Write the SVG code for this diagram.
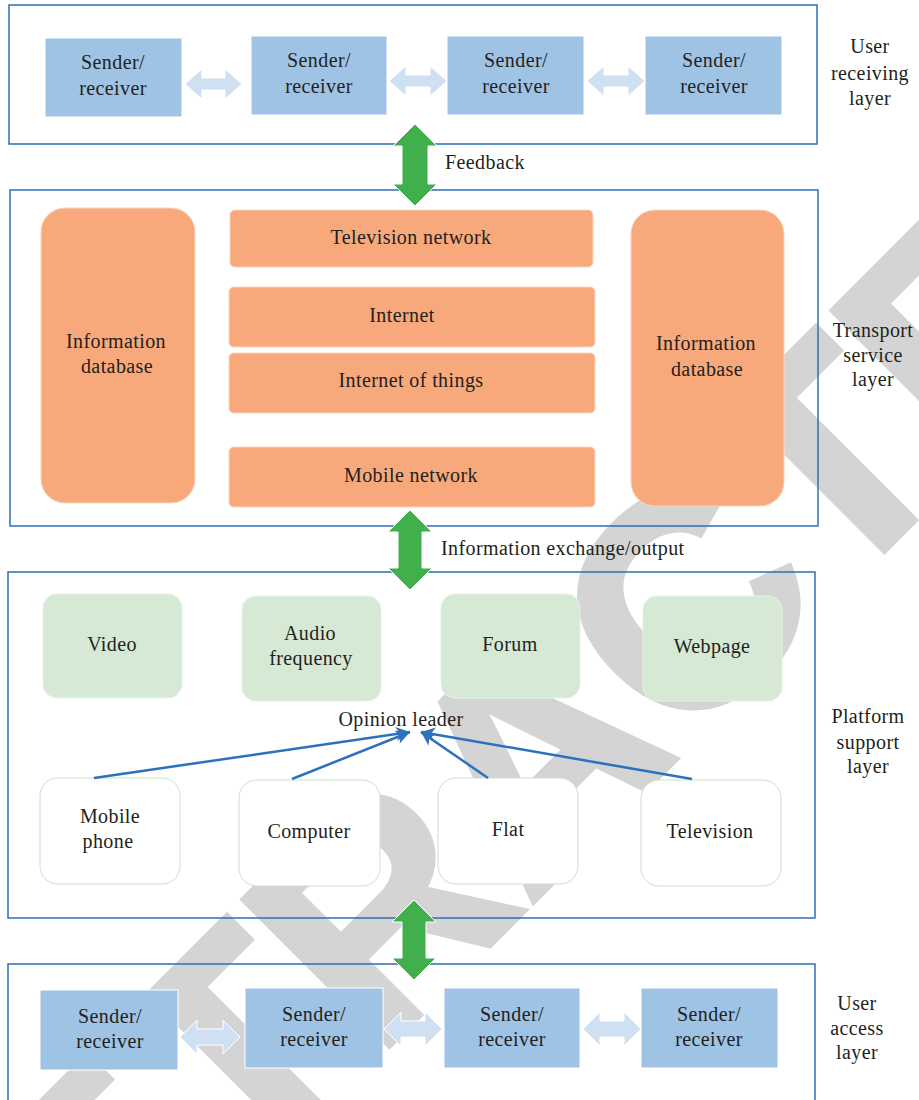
<svg xmlns="http://www.w3.org/2000/svg" width="919" height="1100" viewBox="0 0 919 1100">
<style>
.t{font-family:"Liberation Serif","Times New Roman",serif;font-size:20px;fill:#231f20;text-anchor:middle;letter-spacing:0.4px}
.tl{font-family:"Liberation Serif","Times New Roman",serif;font-size:20px;fill:#231f20;letter-spacing:0.4px}
.frame{fill:none;stroke:#2f6eb5;stroke-width:1.5}
.sr{fill:#9fc3e5;stroke:#ffffff;stroke-width:1}
.or{fill:#f8a97b;stroke:#fbd3bb;stroke-width:1}
.gr{fill:#d6e9d5;stroke:#e6f2e5;stroke-width:1}
.dv{fill:#ffffff;stroke:#c9e3c3;stroke-width:1}
.la{fill:#cfe0f2;stroke:#ffffff;stroke-width:1}
.ga{fill:#41b04c;stroke:#ffffff;stroke-width:1}
.ln{fill:none;stroke:#2a72bd;stroke-width:2.5}
.wm{font-family:"Liberation Sans",Arial,sans-serif;font-weight:bold;font-size:300px;fill:#d4d4d4;stroke:#d4d4d4;stroke-width:6;stroke-linejoin:miter}
</style>
<defs>
<marker id="ah" markerUnits="userSpaceOnUse" markerWidth="16" markerHeight="14" refX="14" refY="7" orient="auto">
<path d="M0,0 L14,7 L0,14 L4,7 Z" fill="#2a72bd"/>
</marker>
</defs>

<g id="watermark">
<text class="wm" transform="translate(-49,1484) rotate(-45)">RETRACTED</text>
</g>

<g id="layer-user-receiving">
<rect class="frame" x="9" y="5" width="808" height="139"/>
<text class="t" x="870" y="53">User</text>
<text class="t" x="870" y="80">receiving</text>
<text class="t" x="870" y="105">layer</text>
</g>
<g id="layer-transport">
<rect class="frame" x="10" y="190" width="808" height="336"/>
<text class="t" x="873" y="337">Transport</text>
<text class="t" x="873" y="362">service</text>
<text class="t" x="873" y="386">layer</text>
</g>
<g id="layer-platform">
<rect class="frame" x="8" y="572" width="807" height="346"/>
<text class="t" x="868" y="723">Platform</text>
<text class="t" x="868" y="749">support</text>
<text class="t" x="868" y="773">layer</text>
</g>
<g id="layer-user-access">
<rect class="frame" x="8" y="964" width="807" height="150"/>
<text class="t" x="857" y="1010">User</text>
<text class="t" x="857" y="1035">access</text>
<text class="t" x="857" y="1059">layer</text>
</g>

<g id="top-sr1"><rect class="sr" x="45" y="38" width="137" height="79"/><text class="t" x="113" y="69">Sender/</text><text class="t" x="113" y="95">receiver</text></g>
<g id="top-sr2"><rect class="sr" x="251" y="36" width="136" height="79"/><text class="t" x="319" y="67">Sender/</text><text class="t" x="319" y="93">receiver</text></g>
<g id="top-sr3"><rect class="sr" x="447" y="36" width="137" height="79"/><text class="t" x="516" y="67">Sender/</text><text class="t" x="516" y="93">receiver</text></g>
<g id="top-sr4"><rect class="sr" x="645" y="36" width="137" height="79"/><text class="t" x="714" y="67">Sender/</text><text class="t" x="714" y="93">receiver</text></g>

<g id="db-left"><rect class="or" x="41" y="208" width="154" height="295" rx="24"/><text class="t" x="116" y="348">Information</text><text class="t" x="117" y="373">database</text></g>
<g id="tv-network"><rect class="or" x="230" y="210" width="363" height="57" rx="5"/><text class="t" x="411" y="244">Television network</text></g>
<g id="internet"><rect class="or" x="229" y="287" width="366" height="60" rx="5"/><text class="t" x="402" y="322">Internet</text></g>
<g id="iot"><rect class="or" x="229" y="353" width="366" height="60" rx="5"/><text class="t" x="411" y="387">Internet of things</text></g>
<g id="mobile-network"><rect class="or" x="229" y="447" width="366" height="60" rx="5"/><text class="t" x="411" y="482">Mobile network</text></g>
<g id="db-right"><rect class="or" x="631" y="210" width="153" height="296" rx="24"/><text class="t" x="706" y="350">Information</text><text class="t" x="707" y="376">database</text></g>

<g id="video"><rect class="gr" x="43" y="594" width="139" height="104" rx="14"/><text class="t" x="112" y="651">Video</text></g>
<g id="audio"><rect class="gr" x="242" y="596" width="139" height="105" rx="14"/><text class="t" x="310" y="640">Audio</text><text class="t" x="311" y="665">frequency</text></g>
<g id="forum"><rect class="gr" x="441" y="594" width="139" height="104" rx="14"/><text class="t" x="510" y="651">Forum</text></g>
<g id="webpage"><rect class="gr" x="643" y="596" width="139" height="105" rx="14"/><text class="t" x="712" y="653">Webpage</text></g>

<g id="opinion-leader"><text class="t" x="401" y="726">Opinion leader</text></g>

<g id="mobile-phone"><rect class="dv" x="40" y="778" width="140" height="106" rx="18"/><text class="t" x="110" y="823">Mobile</text><text class="t" x="108" y="848">phone</text></g>
<g id="computer"><rect class="dv" x="239" y="780" width="141" height="106" rx="18"/><text class="t" x="309" y="838">Computer</text></g>
<g id="flat"><rect class="dv" x="438" y="778" width="140" height="106" rx="18"/><text class="t" x="508" y="836">Flat</text></g>
<g id="television"><rect class="dv" x="641" y="780" width="140" height="106" rx="18"/><text class="t" x="710" y="838">Television</text></g>

<g id="bot-sr1"><rect class="sr" x="40" y="990" width="138" height="80"/><text class="t" x="110" y="1023">Sender/</text><text class="t" x="110" y="1048">receiver</text></g>
<g id="bot-sr2"><rect class="sr" x="245" y="988" width="138" height="80"/><text class="t" x="314" y="1021">Sender/</text><text class="t" x="314" y="1046">receiver</text></g>
<g id="bot-sr3"><rect class="sr" x="444" y="988" width="136" height="80"/><text class="t" x="512" y="1021">Sender/</text><text class="t" x="512" y="1046">receiver</text></g>
<g id="bot-sr4"><rect class="sr" x="641" y="988" width="137" height="80"/><text class="t" x="709" y="1021">Sender/</text><text class="t" x="709" y="1046">receiver</text></g>

<g id="connectors">
<path class="la" d="M185,84 L202,69 L202,78 L225,78 L225,69 L242,84 L225,99 L225,90 L202,90 L202,99 Z"/>
<path class="la" d="M389,81 L406,66 L406,75 L430,75 L430,66 L447,81 L430,96 L430,87 L406,87 L406,96 Z"/>
<path class="la" d="M587,81 L604,66 L604,75 L628,75 L628,66 L645,81 L628,96 L628,87 L604,87 L604,96 Z"/>

<path class="ga" d="M415,124 L437,146 L428,146 L428,184 L437,184 L415,206 L393,184 L402,184 L402,146 L393,146 Z"/>
<text class="tl" x="445" y="169">Feedback</text>
<path class="ga" d="M410,510 L432,532 L422,532 L422,568 L432,568 L410,590 L388,568 L398,568 L398,532 L388,532 Z"/>
<text class="tl" x="441" y="555">Information exchange/output</text>
<path class="ga" d="M414,900 L436,922 L426,922 L426,958 L436,958 L414,980 L392,958 L402,958 L402,922 L392,922 Z"/>

<line class="ln" x1="94" y1="778" x2="410" y2="732" marker-end="url(#ah)"/>
<line class="ln" x1="292" y1="779" x2="410" y2="732" marker-end="url(#ah)"/>
<line class="ln" x1="488" y1="778" x2="421" y2="732" marker-end="url(#ah)"/>
<line class="ln" x1="692" y1="779" x2="421" y2="732" marker-end="url(#ah)"/>

<path class="la" d="M180,1037 L197,1020 L197,1029 L223,1029 L223,1020 L240,1037 L223,1054 L223,1045 L197,1045 L197,1054 Z"/>
<path class="la" d="M384,1029 L401,1012 L401,1021 L425,1021 L425,1012 L442,1029 L425,1046 L425,1037 L401,1037 L401,1046 Z"/>
<path class="la" d="M583,1029 L600,1012 L600,1021 L624,1021 L624,1012 L641,1029 L624,1046 L624,1037 L600,1037 L600,1046 Z"/>
</g>
</svg>
